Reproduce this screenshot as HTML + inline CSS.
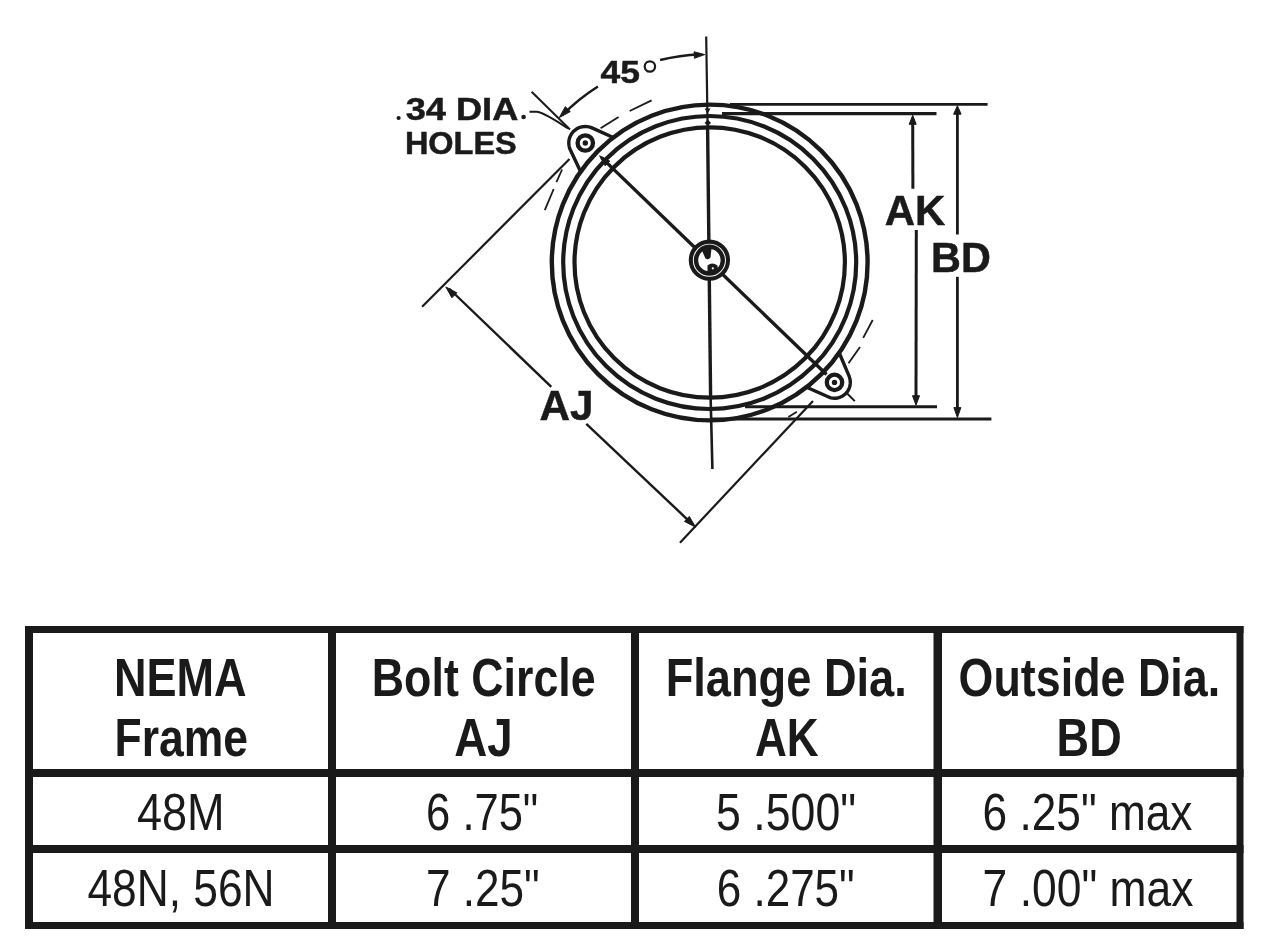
<!DOCTYPE html>
<html><head><meta charset="utf-8"><title>NEMA flange</title>
<style>html,body{margin:0;padding:0;background:#fff;width:1280px;height:949px;overflow:hidden}svg{display:block;will-change:transform}</style>
</head><body>
<svg width="1280" height="949" viewBox="0 0 1280 949">
<g fill="none" stroke="#1b1a1a" stroke-linecap="butt">
<path d="M612.7,137.2 L592.0,127.9 L590.5,127.3 L588.9,126.9 L587.2,126.6 L585.6,126.5 L583.9,126.6 L582.2,126.8 L580.6,127.2 L579.0,127.7 L577.5,128.4 L576.1,129.3 L574.8,130.3 L573.5,131.4 L572.4,132.7 L571.4,134.1 L570.6,135.5 L569.9,137.0 L569.4,138.6 L569.0,140.2 L568.8,141.9 L568.8,143.6 L569.0,145.2 L569.3,146.9 L569.7,148.5 L570.4,150.0 L580.3,171.0" fill="#fff" stroke-width="3.4" stroke-linejoin="round"/>
<path d="M839.5,353.5 L849.1,376.2 L849.6,377.7 L850.0,379.3 L850.2,380.8 L850.3,382.4 L850.2,383.9 L850.0,385.5 L849.6,387.0 L849.1,388.5 L848.4,389.9 L847.6,391.3 L846.6,392.5 L845.6,393.7 L844.4,394.7 L843.1,395.7 L841.7,396.4 L840.3,397.1 L838.8,397.6 L837.3,398.0 L835.7,398.2 L834.2,398.2 L832.6,398.1 L831.0,397.8 L829.5,397.4 L828.1,396.8 L807.2,387.5" fill="#fff" stroke-width="3.4" stroke-linejoin="round"/>
<circle cx="709.7" cy="262.5" r="135.2" stroke-width="4.2"/>
<circle cx="709.7" cy="262.5" r="146.5" stroke-width="4.2"/>
<circle cx="709.7" cy="262.5" r="157.9" stroke-width="4.4"/>
<line x1="730.0" y1="104.4" x2="987.6" y2="104.4" stroke-width="2.6"/>
<line x1="712.0" y1="419.0" x2="991.4" y2="419.0" stroke-width="2.8"/>
<line x1="722.0" y1="113.6" x2="936.5" y2="113.6" stroke-width="3.4"/>
<line x1="745.0" y1="406.7" x2="937.0" y2="406.7" stroke-width="3.0"/>
<line x1="912.7" y1="120.0" x2="912.9" y2="188.7" stroke-width="3.0"/>
<line x1="916.3" y1="229.9" x2="916.0" y2="398.0" stroke-width="3.0"/>
<path d="M912.7,115.3 L916.2,124.3 L909.2,124.3Z" fill="#1b1a1a"/>
<path d="M916.0,405.2 L912.5,395.7 L919.5,395.7Z" fill="#1b1a1a"/>
<line x1="957.4" y1="110.0" x2="957.4" y2="234.5" stroke-width="2.8"/>
<line x1="957.4" y1="276.8" x2="957.4" y2="410.0" stroke-width="2.8"/>
<path d="M957.4,105.7 L961.1,114.2 L953.6,114.2Z" fill="#1b1a1a"/>
<path d="M957.4,417.6 L953.9,407.6 L960.9,407.6Z" fill="#1b1a1a"/>
<line x1="706.2" y1="36.6" x2="707.6" y2="128.0" stroke-width="2.2"/>
<line x1="707.6" y1="128.0" x2="710.6" y2="397.0" stroke-width="3.4"/>
<line x1="710.6" y1="397.0" x2="712.4" y2="469.0" stroke-width="2.6"/>
<path d="M704.6,108.4 L710.6,108.4 L707.6,113.6 Z" fill="#1b1a1a" stroke="none"/>
<path d="M707.8,119.6 L711,123 L707.8,126 L704.6,123 Z" fill="#1b1a1a" stroke="none"/>
<line x1="531.6" y1="91.8" x2="570.0" y2="129.5" stroke-width="2.0"/>
<line x1="601.5" y1="157.6" x2="826.5" y2="374.5" stroke-width="3.4"/>
<path d="M599.6,155.8 L609.8,161.1 L605.2,165.8Z" fill="#1b1a1a"/>
<line x1="847.4" y1="393.8" x2="854.8" y2="401.1" stroke-width="2.0"/>
<circle cx="585.3" cy="143.0" r="7.7" stroke-width="4.3" fill="#fff"/>
<circle cx="585.3" cy="143.0" r="2.7" fill="#1b1a1a" stroke="none"/>
<circle cx="834.5" cy="382.4" r="7.7" stroke-width="4.3" fill="#fff"/>
<circle cx="834.5" cy="382.4" r="2.7" fill="#1b1a1a" stroke="none"/>
<circle cx="709.4" cy="260.2" r="18.6" stroke-width="4.1" fill="#fff"/>
<circle cx="709.4" cy="260.2" r="13.4" stroke-width="4.4"/>
<path d="M701.5,249.5 L711.5,248.5 L710.5,257.5 Q708.5,260.5 705.5,258.5 Z" fill="#1b1a1a" stroke="none"/>
<path d="M707.5,265.5 Q712,261.5 717.5,265.5 L718,271.5 L707.5,272.5 Z" fill="#1b1a1a" stroke="none"/>
<circle cx="712.8" cy="268.3" r="1.1" fill="#fff" stroke="none"/>
<line x1="600.6" y1="128.3" x2="618.6" y2="116.9" stroke-width="1.8"/>
<line x1="629.7" y1="111.0" x2="651.6" y2="100.4" stroke-width="1.8"/>
<line x1="544.8" y1="210.1" x2="553.7" y2="189.0" stroke-width="1.8"/>
<line x1="556.4" y1="182.1" x2="562.1" y2="169.5" stroke-width="1.8"/>
<line x1="863.2" y1="337.9" x2="872.7" y2="320.0" stroke-width="1.8"/>
<line x1="848.5" y1="363.2" x2="860.0" y2="346.9" stroke-width="1.8"/>
<line x1="788.4" y1="416.9" x2="796.9" y2="411.7" stroke-width="1.8"/>
<path d="M597.9,86.5 A208.5,208.5 0 0 0 562.2,115.2" stroke-width="2.6"/>
<path d="M559.3,117.6 L565.3,106.7 L570.3,111.6Z" fill="#1b1a1a"/>
<path d="M660.1,60.0 A208.5,208.5 0 0 1 700.0,54.2" stroke-width="2.6"/>
<path d="M704.7,54.6 L694.4,58.3 L694.1,51.8Z" fill="#1b1a1a"/>
<circle cx="649.9" cy="66.5" r="5.2" stroke-width="2.2"/>
<circle cx="398.6" cy="118.0" r="2.1" fill="#1b1a1a" stroke="none"/>
<circle cx="523.6" cy="117.0" r="2.3" fill="#1b1a1a" stroke="none"/>
<path d="M529.5,111.7 L537,111.7 Q545,113 568,128.5" stroke-width="2.0"/>
<line x1="422.1" y1="306.8" x2="569.5" y2="159.0" stroke-width="2.2"/>
<line x1="680.0" y1="542.7" x2="813.0" y2="401.0" stroke-width="2.2"/>
<line x1="449.0" y1="288.5" x2="551.3" y2="386.9" stroke-width="2.4"/>
<line x1="586.3" y1="423.8" x2="692.0" y2="523.8" stroke-width="2.4"/>
<path d="M445.8,286.9 L456.8,292.8 L451.9,297.8Z" fill="#1b1a1a"/>
<path d="M695.6,527.2 L684.5,521.4 L689.3,516.4Z" fill="#1b1a1a"/>
</g>
<rect x="25" y="626" width="8" height="303" fill="#1b1a1a"/>
<rect x="328" y="626" width="8" height="303" fill="#1b1a1a"/>
<rect x="631" y="626" width="8" height="303" fill="#1b1a1a"/>
<rect x="933.5" y="626" width="8.5" height="303" fill="#1b1a1a"/>
<rect x="1236.5" y="626" width="7.0" height="303" fill="#1b1a1a"/>
<rect x="25" y="626" width="1218.5" height="7" fill="#1b1a1a"/>
<rect x="25" y="769" width="1218.5" height="8" fill="#1b1a1a"/>
<rect x="25" y="845" width="1218.5" height="8" fill="#1b1a1a"/>
<rect x="25" y="922" width="1218.5" height="7" fill="#1b1a1a"/>
<g fill="#1b1a1a" font-family="Liberation Sans, sans-serif">
<text x="113.90" y="696.00" font-size="52.80" font-weight="bold" textLength="132.61" lengthAdjust="spacingAndGlyphs">NEMA</text>
<text x="114.50" y="755.80" font-size="52.80" font-weight="bold" textLength="133.55" lengthAdjust="spacingAndGlyphs">Frame</text>
<text x="371.80" y="696.00" font-size="52.80" font-weight="bold" textLength="223.85" lengthAdjust="spacingAndGlyphs">Bolt Circle</text>
<text x="454.30" y="755.60" font-size="52.80" font-weight="bold" textLength="58.39" lengthAdjust="spacingAndGlyphs">AJ</text>
<text x="665.70" y="696.00" font-size="52.80" font-weight="bold" textLength="241.09" lengthAdjust="spacingAndGlyphs">Flange Dia.</text>
<text x="754.90" y="755.60" font-size="52.80" font-weight="bold" textLength="63.70" lengthAdjust="spacingAndGlyphs">AK</text>
<text x="958.60" y="696.00" font-size="52.80" font-weight="bold" textLength="261.53" lengthAdjust="spacingAndGlyphs">Outside Dia.</text>
<text x="1056.60" y="755.60" font-size="52.80" font-weight="bold" textLength="65.08" lengthAdjust="spacingAndGlyphs">BD</text>
<text x="136.90" y="830.30" font-size="52.10" textLength="87.73" lengthAdjust="spacingAndGlyphs">48M</text>
<text x="87.40" y="905.80" font-size="52.10" textLength="187.21" lengthAdjust="spacingAndGlyphs">48N, 56N</text>
<text x="426.10" y="830.30" font-size="52.10" textLength="112.22" lengthAdjust="spacingAndGlyphs">6 .75&quot;</text>
<text x="425.90" y="905.80" font-size="52.10" textLength="113.79" lengthAdjust="spacingAndGlyphs">7 .25&quot;</text>
<text x="716.00" y="830.30" font-size="52.10" textLength="140.11" lengthAdjust="spacingAndGlyphs">5 .500&quot;</text>
<text x="716.75" y="905.80" font-size="52.10" textLength="137.97" lengthAdjust="spacingAndGlyphs">6 .275&quot;</text>
<text x="982.60" y="830.00" font-size="52.10" textLength="209.80" lengthAdjust="spacingAndGlyphs">6 .25&quot; max</text>
<text x="982.60" y="905.80" font-size="52.10" textLength="210.80" lengthAdjust="spacingAndGlyphs">7 .00&quot; max</text>
<text x="405.70" y="120.00" font-size="31.00" font-weight="bold" stroke="#1b1a1a" stroke-width="0.5" textLength="112.59" lengthAdjust="spacingAndGlyphs">34 DIA</text>
<text x="404.90" y="154.30" font-size="31.50" font-weight="bold" stroke="#1b1a1a" stroke-width="0.5" textLength="111.90" lengthAdjust="spacingAndGlyphs">HOLES</text>
<text x="600.50" y="83.30" font-size="31.50" font-weight="bold" stroke="#1b1a1a" stroke-width="0.5" textLength="39.42" lengthAdjust="spacingAndGlyphs">45</text>
<text x="884.80" y="225.20" font-size="42.90" font-weight="bold" stroke="#1b1a1a" stroke-width="0.5" textLength="60.54" lengthAdjust="spacingAndGlyphs">AK</text>
<text x="931.00" y="271.60" font-size="42.30" font-weight="bold" stroke="#1b1a1a" stroke-width="0.5" textLength="59.81" lengthAdjust="spacingAndGlyphs">BD</text>
<text x="539.40" y="420.30" font-size="42.40" font-weight="bold" stroke="#1b1a1a" stroke-width="0.5" textLength="54.04" lengthAdjust="spacingAndGlyphs">AJ</text>
</g>
</svg>
</body></html>
